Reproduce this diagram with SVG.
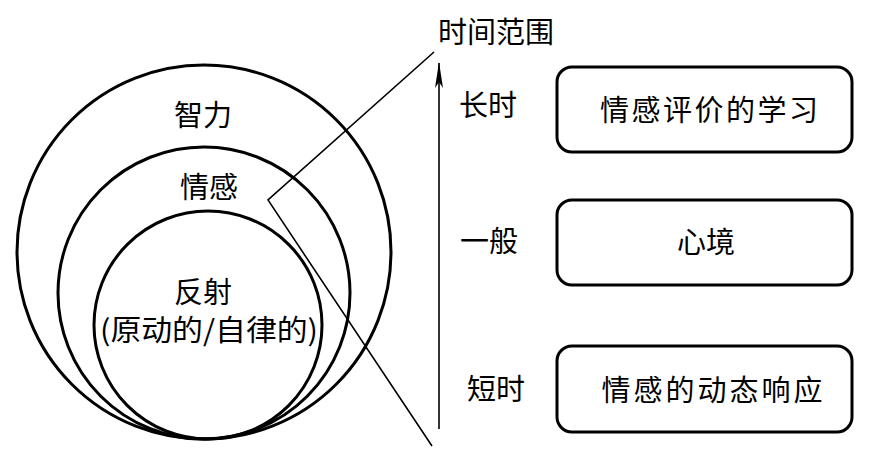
<svg xmlns="http://www.w3.org/2000/svg" width="879" height="454" viewBox="0 0 879 454">
<style>
.c{fill:none;stroke:#000;stroke-width:3}
.b{fill:#fff;stroke:#000;stroke-width:3}
.l{fill:none;stroke:#000;stroke-width:1.6}
text{font-family:"Noto Sans CJK SC","Noto Sans",sans-serif;font-size:29px;fill:#000;text-anchor:middle}
</style>
<defs>
<marker id="ah" markerWidth="28" markerHeight="10" refX="27" refY="5" orient="auto" markerUnits="userSpaceOnUse" viewBox="0 0 28 10">
<path d="M28,5 L2,1 L8,5 L2,9 Z" fill="#000"/>
</marker>
</defs>
<rect width="879" height="454" fill="#fff"/>
<g id="circle-intelligence"><circle class="c" cx="204" cy="252" r="187"/><text x="203" y="126">智力</text></g>
<g id="circle-emotion"><circle class="c" cx="204" cy="293" r="146"/><text x="209" y="198">情感</text></g>
<g id="circle-reflex"><circle class="c" cx="208" cy="325" r="114"/><text x="203" y="303">反射</text><text x="209" y="341" textLength="218" lengthAdjust="spacingAndGlyphs">(原动的/自律的)</text></g>
<g id="connectors">
<polyline class="l" points="434,52 268,200 432,446"/>
<line class="l" x1="439" y1="429" x2="439" y2="63" marker-end="url(#ah)"/>
</g>
<g id="axis-title"><text x="496" y="43">时间范围</text></g>
<g id="label-long"><text x="488" y="116">长时</text></g>
<g id="label-mid"><text x="489" y="252">一般</text></g>
<g id="label-short"><text x="496" y="400">短时</text></g>
<g id="box-learning"><rect class="b" x="557" y="67" width="295" height="85" rx="15"/><text x="709" y="121" textLength="218" lengthAdjust="spacing">情感评价的学习</text></g>
<g id="box-mood"><rect class="b" x="557" y="200" width="295" height="85" rx="15"/><text x="706" y="253">心境</text></g>
<g id="box-dynamic"><rect class="b" x="557" y="346" width="295" height="86" rx="15"/><text x="712" y="401" textLength="221" lengthAdjust="spacing">情感的动态响应</text></g>
</svg>
